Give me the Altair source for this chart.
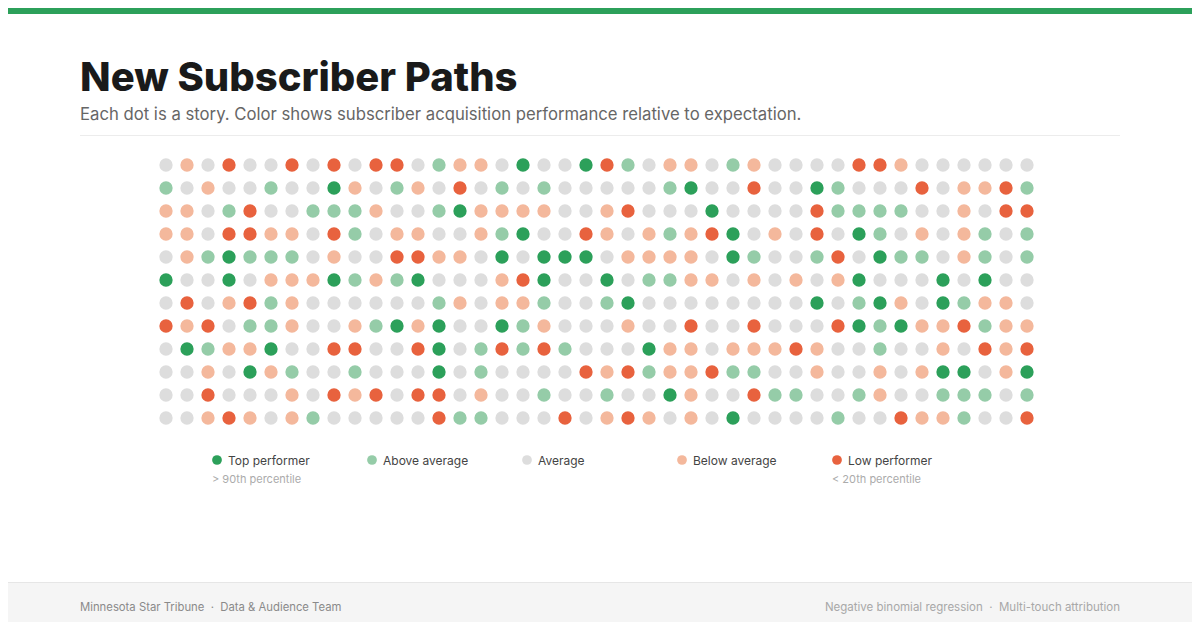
import altair as alt
import pandas as pd

# ---- data -------------------------------------------------------------
CATEGORIES = ["Top performer", "Above average", "Average", "Below average", "Low performer"]
CODES = ["T", "A", "M", "B", "L"]
COLORS = ["#2ca05a", "#95cca8", "#dddddd", "#f4b89c", "#e8623e"]
SUBLABELS = ["> 90th percentile", "", "", "", "< 20th percentile"]

# one string per row of dots, one letter per story (T/A/M/B/L)
ROWS = [
    "MBMLMMLMLMLLMABBMTMMTLAMBBMABMMMMLLBMMMMMM",
    "AMBMMAMMTBMABMLMAMAMMMMMATMMLMMTAMMMLMBBLA",
    "BBMALMMAAABMMATBBBBMMBLMMMTMMMMLAAAAMMBMLL",
    "BBMLLBBMLAMBBMMBATMMLBMBABLTMBMLMTAMBMBAMA",
    "MBATAAAMBMMLLBBMTMTTTMBBBBMTAMMALMTAAMBAMA",
    "TMMTMBBBTABATMMMBLTMMTMAABBMBMBMBTMMMTMTMM",
    "MLMBLABMMMMMMABMBBAMMATMMMMMMMMTMATBMTABBM",
    "LBLMAABMMBATBTMMTABMMMBMMLMMLMMMLTATBBLABB",
    "MTABBTMMLLMMLTMALALAMMMTBBMBBBLBMMAMMBMLBL",
    "MMBMTBAMMAMMMTMAMMMMLBLABBLAAMMBMMBMBTTMBT",
    "MMLMMMBMLBLMLLMBMMAMMAMMTBMMLAAMMABMMAAAMA",
    "MMBLBMBAMMMMMLAAMMMLMBLBMBMTMMMMAMMLBBAMML",
]

TITLE = ["New Subscriber Paths"]
SUBTITLE = ["Each dot is a story. Color shows subscriber acquisition performance relative to expectation."]
SEP = "\u00a0\u00a0\u00b7\u00a0\u00a0"
FOOTER_LEFT = ["Minnesota Star Tribune" + SEP + "Data & Audience Team"]
FOOTER_RIGHT = ["Negative binomial regression" + SEP + "Multi-touch attribution"]

# ---- tables ----------------------------------------------------------
code_to_cat = dict(zip(CODES, CATEGORIES))
records = []
for r, row in enumerate(ROWS):
    for c, ch in enumerate(row):
        records.append({"row": r, "col": c, "perf": code_to_cat[ch]})
dots_df = pd.DataFrame(records)
leg_df = pd.DataFrame({"i": list(range(len(CATEGORIES))), "perf": CATEGORIES, "sub": SUBLABELS})

W, H = 1184, 614
FONT = "Inter"

color_scale = alt.Scale(domain=CATEGORIES, range=COLORS)

# ---- layers ------------------------------------------------------------
one = pd.DataFrame({"k": [0]})

top_bar = alt.Chart(one).mark_rect(color="#2ca05a").encode(
    x=alt.value(0), x2=alt.value(W), y=alt.value(0), y2=alt.value(6)
)
footer_bg = alt.Chart(one).mark_rect(color="#f5f5f5").encode(
    x=alt.value(0), x2=alt.value(W), y=alt.value(574), y2=alt.value(H)
)
footer_line = alt.Chart(one).mark_rule(color="#e6e6e6", strokeWidth=1).encode(
    x=alt.value(0), x2=alt.value(W), y=alt.value(574.5)
)
divider = alt.Chart(one).mark_rule(color="#ececec", strokeWidth=1).encode(
    x=alt.value(72), x2=alt.value(1112), y=alt.value(127.5)
)

title = alt.Chart(pd.DataFrame({"t": TITLE})).mark_text(
    align="left", baseline="alphabetic", font=FONT, fontSize=40, fontWeight=800, color="#1a1a1a"
).encode(x=alt.value(72), y=alt.value(83), text="t:N")

subtitle = alt.Chart(pd.DataFrame({"t": SUBTITLE})).mark_text(
    align="left", baseline="alphabetic", font=FONT, fontSize=16.7, color="#666666"
).encode(x=alt.value(72), y=alt.value(111.5), text="t:N")

foot_l = alt.Chart(pd.DataFrame({"t": FOOTER_LEFT})).mark_text(
    align="left", baseline="middle", font=FONT, fontSize=11.3, color="#8a8a8a"
).encode(x=alt.value(72), y=alt.value(600), text="t:N")

foot_r = alt.Chart(pd.DataFrame({"t": FOOTER_RIGHT})).mark_text(
    align="right", baseline="middle", font=FONT, fontSize=11.5, color="#a8a8a8"
).encode(x=alt.value(1112), y=alt.value(600), text="t:N")

dots = alt.Chart(dots_df).mark_circle(size=177, opacity=1).encode(
    x=alt.X("col:Q", scale=alt.Scale(domain=[0, 41], range=[158, 1019], nice=False, zero=False), axis=None),
    y=alt.Y("row:Q", scale=alt.Scale(domain=[0, 11], range=[157, 410], nice=False, zero=False), axis=None),
    color=alt.Color("perf:N", scale=color_scale, legend=None),
)

lx = alt.X("i:Q", scale=alt.Scale(domain=[0, 4], range=[209, 829], nice=False, zero=False), axis=None)

leg_dots = alt.Chart(leg_df).mark_circle(size=95, opacity=1).encode(
    x=lx, y=alt.value(452), color=alt.Color("perf:N", scale=color_scale, legend=None)
)
leg_text = alt.Chart(leg_df).mark_text(
    align="left", baseline="middle", dx=11, font=FONT, fontSize=12, color="#444444"
).encode(x=lx, y=alt.value(452.5), text="perf:N")
leg_sub = alt.Chart(leg_df).mark_text(
    align="left", baseline="middle", dx=-5, font=FONT, fontSize=11, color="#ababab"
).encode(x=lx, y=alt.value(471.5), text="sub:N")

chart = alt.layer(
    top_bar, footer_bg, footer_line, divider, title, subtitle, foot_l, foot_r,
    dots, leg_dots, leg_text, leg_sub,
).resolve_scale(x="independent", y="independent").properties(
    width=W, height=H, background="white", padding=0,
    autosize=alt.AutoSizeParams(type="none"),
).configure_view(stroke=None)

chart.save("out.html", embed_options={"renderer": "svg", "actions": False})
